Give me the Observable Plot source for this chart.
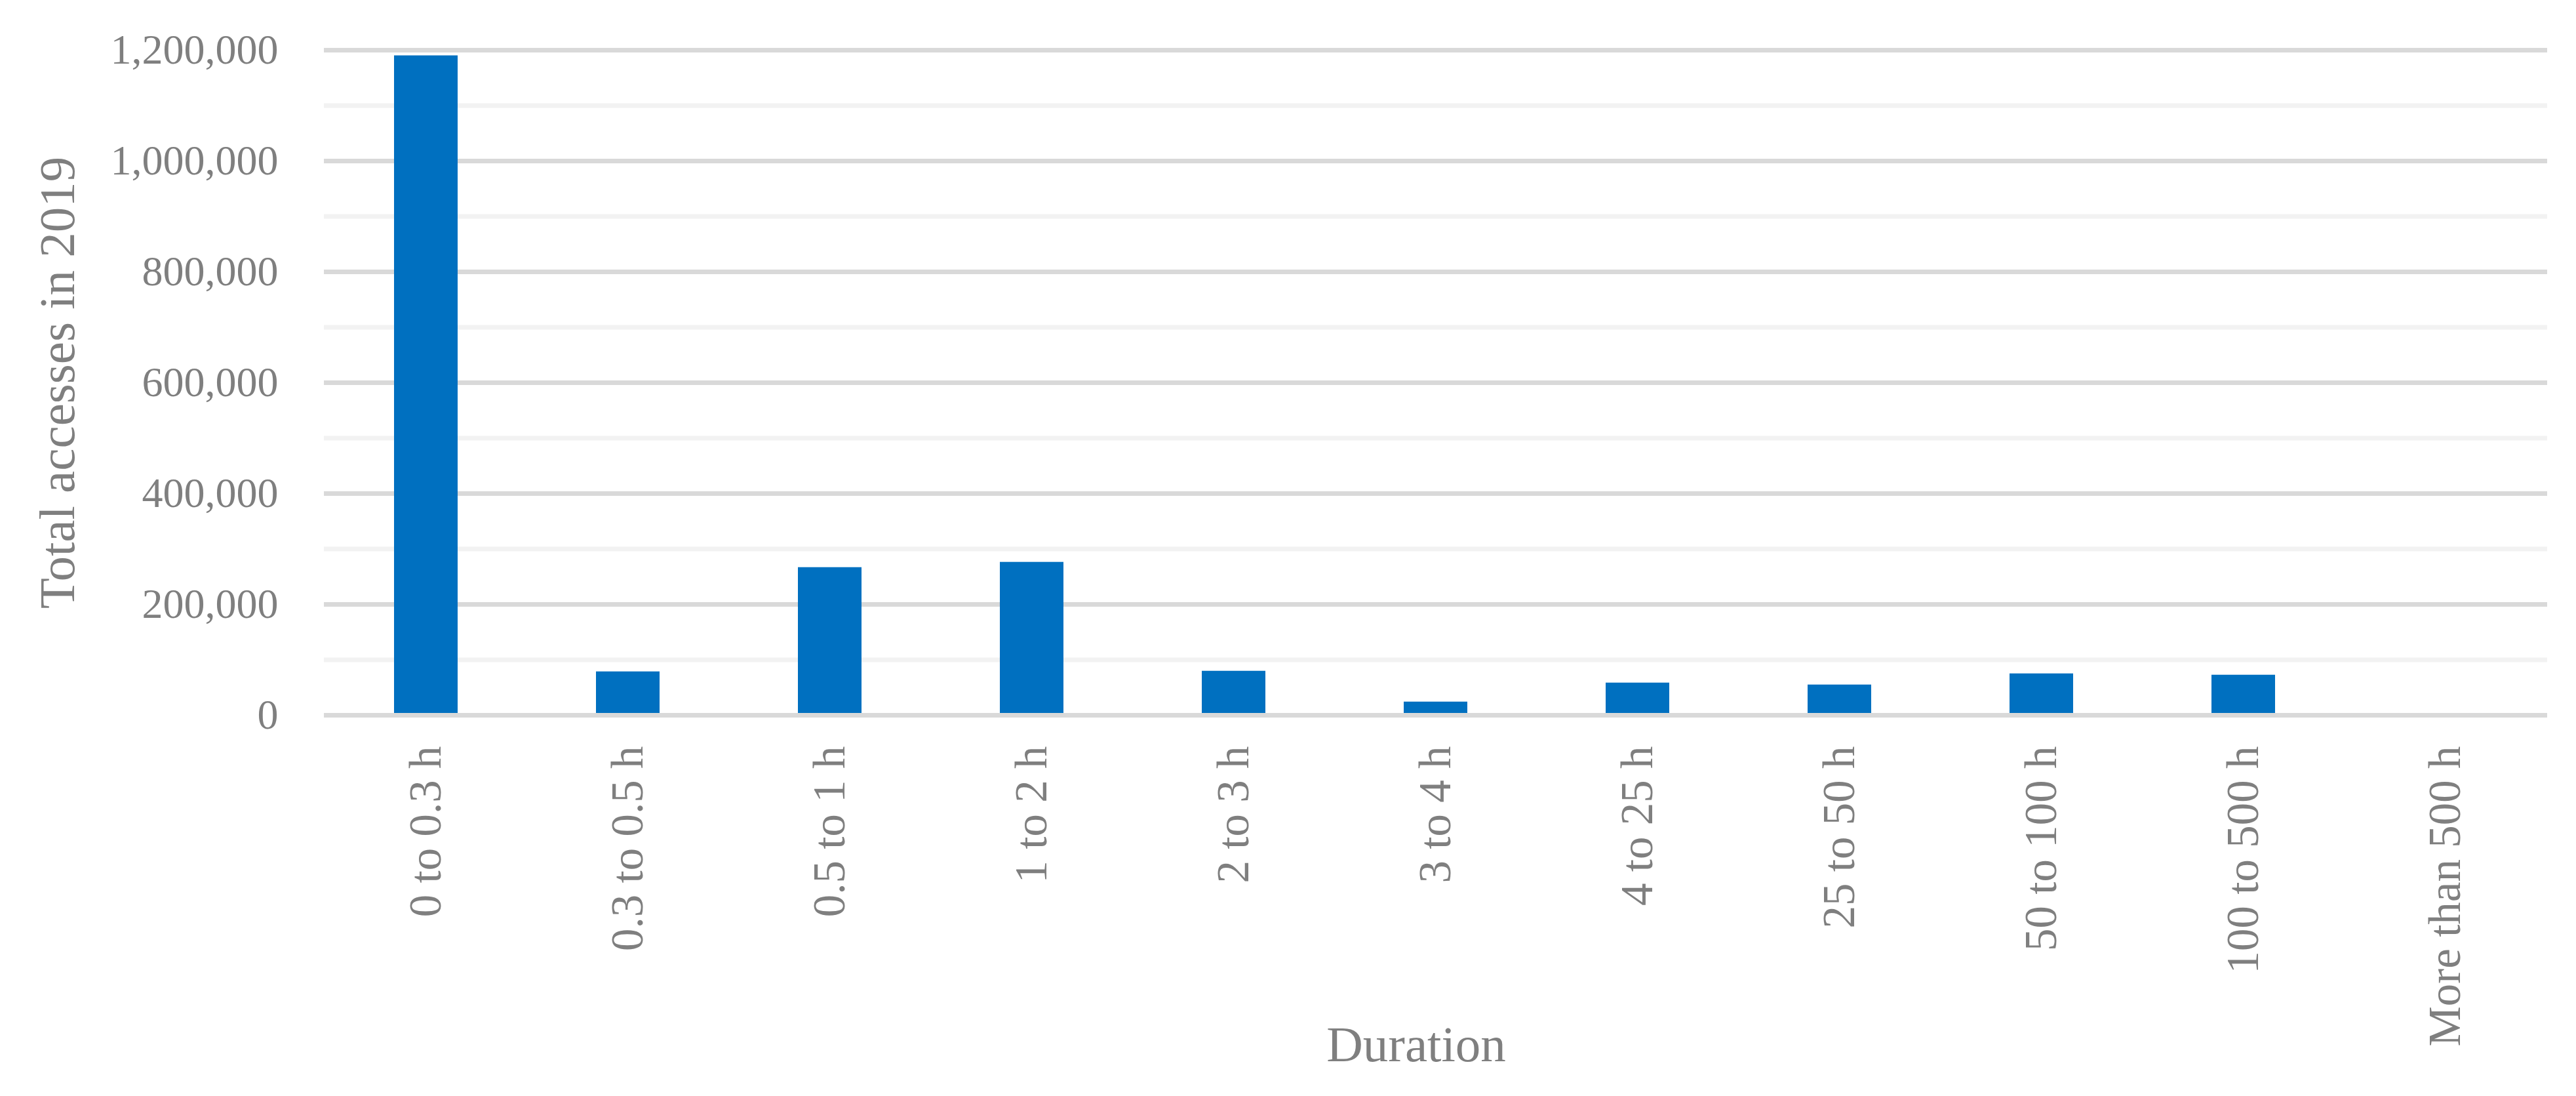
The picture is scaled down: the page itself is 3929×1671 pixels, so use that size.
<!DOCTYPE html>
<html>
<head>
<meta charset="utf-8">
<script src="https://cdn.jsdelivr.net/npm/d3@7"></script>
<script src="https://cdn.jsdelivr.net/npm/@observablehq/plot@0.6"></script>
<style>
  html, body { margin: 0; padding: 0; background: #ffffff; }
  #chart svg { display: block; }
</style>
</head>
<body>
<div id="chart"></div>
<script>
const categories = ["0 to 0.3 h", "0.3 to 0.5 h", "0.5 to 1 h", "1 to 2 h", "2 to 3 h", "3 to 4 h", "4 to 25 h", "25 to 50 h", "50 to 100 h", "100 to 500 h", "More than 500 h"];
const accesses = [1190000, 78500, 266600, 276100, 79600, 24000, 58300, 54800, 74900, 72500, 0];
const yTicks = [0, 200000, 400000, 600000, 800000, 1000000, 1200000];
const yMinorTicks = [100000, 300000, 500000, 700000, 900000, 1100000];
const yTitle = "Total accesses in 2019";
const xTitle = "Duration";

const data = categories.map((c, i) => ({category: c, value: accesses[i]}));
const textColor = "#7f7f7f";

const chart = Plot.plot({
  width: 3929,
  height: 1671,
  marginLeft: 494,
  marginRight: 44,
  marginTop: 76,
  marginBottom: 581,
  style: {fontFamily: "'Liberation Serif', serif", background: "#ffffff", color: textColor},
  x: {domain: categories, paddingInner: 0.684, paddingOuter: 0.342, label: null},
  y: {domain: [0, 1200000], label: null},
  marks: [
    Plot.ruleY(yMinorTicks, {stroke: "#f2f2f2", strokeWidth: 7}),
    Plot.ruleY(yTicks.slice(1), {stroke: "#d9d9d9", strokeWidth: 7}),
    Plot.barY(data, {x: "category", y: "value", fill: "#0070c0"}),
    Plot.ruleY(yTicks.slice(0, 1), {stroke: "#d9d9d9", strokeWidth: 7}),
    Plot.axisY({ticks: yTicks, tickSize: 0, tickPadding: 70, tickFormat: d3.format(","), fontSize: 64, fill: textColor, label: null}),
    Plot.axisX({tickRotate: -90, tickSize: 0, tickPadding: 47, fontSize: 69, fill: textColor, label: null}),
    Plot.text([yTitle], {text: d => d, frameAnchor: "left", textAnchor: "middle", lineAnchor: "middle", rotate: -90, dx: -406, fontSize: 77, fill: textColor}),
    Plot.text([xTitle], {text: d => d, frameAnchor: "bottom", textAnchor: "middle", lineAnchor: "middle", dy: 503, dx: -30, fontSize: 77, fill: textColor})
  ]
});
document.getElementById("chart").appendChild(chart);
</script>
</body>
</html>
